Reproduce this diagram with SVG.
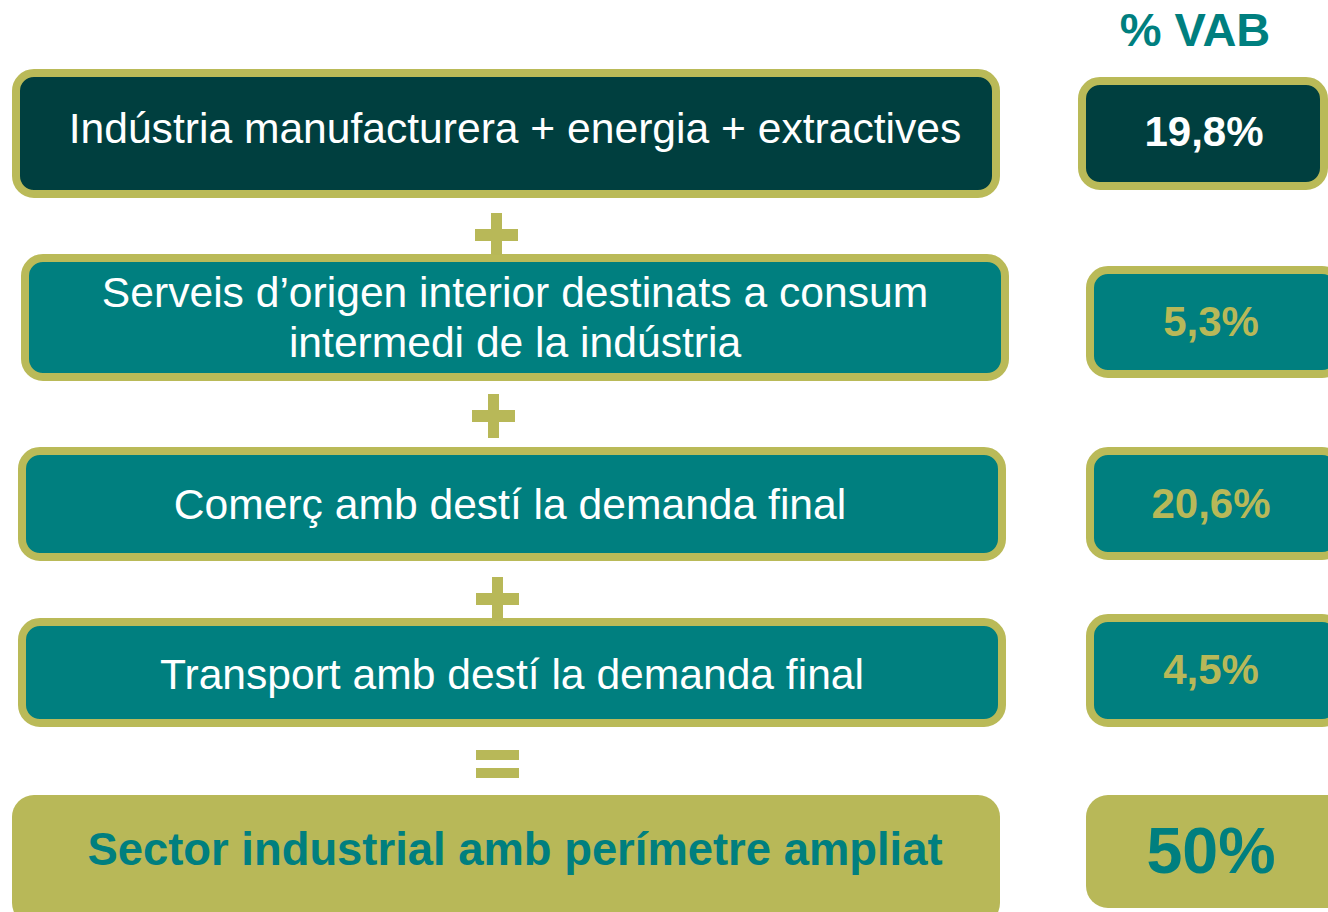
<svg xmlns="http://www.w3.org/2000/svg" width="1328" height="912" viewBox="0 0 1328 912">
<style>
.bx{stroke:#BABA58;stroke-width:8}
.dk{fill:#003F3F}
.tl{fill:#007F7F}
.ol{fill:#B8B858}
.t{font-family:"Liberation Sans",Arial,sans-serif;text-anchor:middle}
.lbl{font-size:42.6px;fill:#FFFFFF}
.pct{font-size:42px;font-weight:bold}
.sign{fill:#B8B858}
</style>
<rect width="1328" height="912" fill="#FFFFFF"/>
<text class="t" x="1195" y="46" font-size="47" font-weight="bold" fill="#007F7F">% VAB</text>

<g id="n1">
<rect class="bx dk" x="16" y="73" width="980" height="121" rx="18"/>
<text class="t lbl" x="515" y="143">Indústria manufacturera + energia + extractives</text>
</g>
<g id="n2">
<rect class="bx tl" x="25" y="258" width="980" height="119" rx="18"/>
<text class="t lbl" x="515" y="307">Serveis d’origen interior destinats a consum</text>
<text class="t lbl" x="515" y="357">intermedi de la indústria</text>
</g>
<g id="n3">
<rect class="bx tl" x="22" y="451" width="980" height="106" rx="18"/>
<text class="t lbl" x="510" y="519">Comerç amb destí la demanda final</text>
</g>
<g id="n4">
<rect class="bx tl" x="22" y="622" width="980" height="101" rx="18"/>
<text class="t lbl" x="512" y="689">Transport amb destí la demanda final</text>
</g>
<g id="n5">
<rect class="ol" x="12" y="795" width="988" height="130" rx="22"/>
<text class="t" x="515" y="865" font-size="45.4" font-weight="bold" fill="#007F7F">Sector industrial amb perímetre ampliat</text>
</g>

<g id="p1">
<rect class="bx dk" x="1082" y="81" width="242" height="105" rx="18"/>
<text class="t pct" x="1204" y="146" fill="#FFFFFF">19,8%</text>
</g>
<g id="p2">
<rect class="bx tl" x="1090" y="270" width="250" height="104" rx="18"/>
<text class="t pct" x="1211" y="336" fill="#B8B858">5,3%</text>
</g>
<g id="p3">
<rect class="bx tl" x="1090" y="451" width="250" height="105" rx="18"/>
<text class="t pct" x="1211" y="518" fill="#B8B858">20,6%</text>
</g>
<g id="p4">
<rect class="bx tl" x="1090" y="618" width="250" height="105" rx="18"/>
<text class="t pct" x="1211" y="684" fill="#B8B858">4,5%</text>
</g>
<g id="p5">
<rect class="ol" x="1086" y="795" width="270" height="113" rx="22"/>
<text class="t" x="1211" y="873" font-size="64.5" font-weight="bold" fill="#007F7F">50%</text>
</g>

<g id="connectors">
<g id="plus1" class="sign">
<rect x="491" y="213" width="11" height="42"/>
<rect x="475" y="229" width="43" height="12"/>
</g>
<g id="plus2" class="sign">
<rect x="488" y="394" width="11" height="44"/>
<rect x="472" y="410" width="43" height="12"/>
</g>
<g id="plus3" class="sign">
<rect x="492" y="577" width="11" height="44"/>
<rect x="476" y="593" width="43" height="12"/>
</g>
<g id="equals" class="sign">
<rect x="476" y="750" width="43" height="10"/>
<rect x="476" y="768" width="43" height="10"/>
</g>
</g>
</svg>
